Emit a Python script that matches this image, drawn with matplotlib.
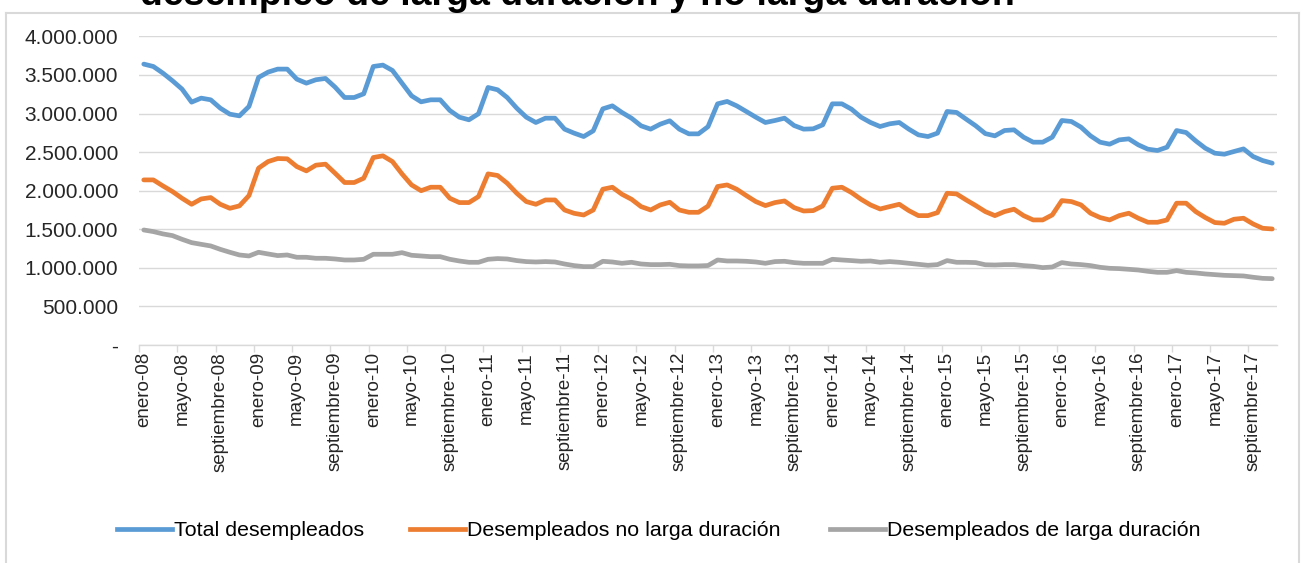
import matplotlib
matplotlib.use("Agg")
import matplotlib.pyplot as plt
import numpy as np
from matplotlib.lines import Line2D

plt.rcParams['font.family'] = ['Liberation Sans', 'DejaVu Sans']

# ---------------- data ----------------
meses = ["enero", "febrero", "marzo", "abril", "mayo", "junio", "julio",
         "agosto", "septiembre", "octubre", "noviembre", "diciembre"]
anios = ["08", "09", "10", "11", "12", "13", "14", "15", "16", "17"]

total_desempleados = [
    3641000, 3610000, 3524000, 3425000, 3317000, 3148000, 3200000, 3178000, 3070000, 2992000, 2970000, 3092000,
    3468000, 3537000, 3576000, 3576000, 3446000, 3394000, 3438000, 3455000, 3343000, 3208000, 3208000, 3256000,
    3610000, 3628000, 3559000, 3394000, 3230000, 3152000, 3178000, 3178000, 3040000, 2953000, 2919000, 2997000,
    3338000, 3308000, 3208000, 3070000, 2953000, 2884000, 2940000, 2940000, 2798000, 2746000, 2702000, 2776000,
    3061000, 3100000, 3014000, 2940000, 2841000, 2798000, 2862000, 2906000, 2798000, 2737000, 2737000, 2830000,
    3126000, 3157000, 3100000, 3027000, 2953000, 2884000, 2910000, 2940000, 2845000, 2798000, 2802000, 2854000,
    3126000, 3126000, 3057000, 2953000, 2884000, 2832000, 2867000, 2884000, 2798000, 2724000, 2702000, 2746000,
    3027000, 3014000, 2927000, 2841000, 2740000, 2711000, 2780000, 2789000, 2694000, 2629000, 2629000, 2694000,
    2910000, 2897000, 2824000, 2711000, 2629000, 2603000, 2659000, 2672000, 2594000, 2538000, 2521000, 2564000,
    2780000, 2754000, 2646000, 2551000, 2486000, 2473000, 2508000, 2542000, 2443000, 2391000, 2357000,
]

no_larga_duracion = [
    2140000, 2140000, 2062000, 1989000, 1902000, 1824000, 1893000, 1911000, 1824000, 1772000, 1803000, 1937000,
    2292000, 2378000, 2417000, 2413000, 2313000, 2257000, 2331000, 2344000, 2227000, 2106000, 2106000, 2162000,
    2430000, 2452000, 2378000, 2218000, 2075000, 2000000, 2045000, 2045000, 1902000, 1846000, 1846000, 1924000,
    2218000, 2197000, 2097000, 1967000, 1859000, 1824000, 1880000, 1880000, 1750000, 1707000, 1685000, 1750000,
    2019000, 2045000, 1954000, 1889000, 1794000, 1750000, 1815000, 1850000, 1750000, 1720000, 1720000, 1800000,
    2054000, 2075000, 2019000, 1937000, 1859000, 1807000, 1846000, 1867000, 1781000, 1737000, 1742000, 1803000,
    2032000, 2045000, 1976000, 1889000, 1815000, 1763000, 1794000, 1824000, 1742000, 1677000, 1677000, 1716000,
    1967000, 1958000, 1880000, 1807000, 1729000, 1677000, 1729000, 1760000, 1677000, 1621000, 1621000, 1686000,
    1872000, 1859000, 1816000, 1708000, 1652000, 1621000, 1677000, 1708000, 1643000, 1591000, 1591000, 1621000,
    1838000, 1838000, 1729000, 1652000, 1587000, 1578000, 1630000, 1643000, 1569000, 1513000, 1504000,
]

larga_duracion = [
    1491000, 1470000, 1440000, 1418000, 1370000, 1327000, 1305000, 1284000, 1240000, 1202000, 1167000, 1154000,
    1202000, 1180000, 1159000, 1167000, 1137000, 1137000, 1124000, 1124000, 1115000, 1102000, 1102000, 1111000,
    1176000, 1176000, 1176000, 1197000, 1163000, 1154000, 1145000, 1145000, 1111000, 1089000, 1072000, 1072000,
    1111000, 1120000, 1115000, 1094000, 1081000, 1076000, 1081000, 1076000, 1050000, 1029000, 1016000, 1016000,
    1085000, 1076000, 1059000, 1072000, 1050000, 1042000, 1042000, 1046000, 1029000, 1025000, 1025000, 1030000,
    1102000, 1089000, 1089000, 1085000, 1076000, 1059000, 1081000, 1085000, 1068000, 1059000, 1059000, 1059000,
    1111000, 1102000, 1094000, 1085000, 1089000, 1072000, 1081000, 1072000, 1059000, 1046000, 1033000, 1042000,
    1094000, 1072000, 1072000, 1068000, 1040000, 1037000, 1042000, 1042000, 1029000, 1020000, 1003000, 1011000,
    1068000, 1050000, 1042000, 1029000, 1007000, 994000, 990000, 981000, 972000, 955000, 942000, 942000,
    964000, 942000, 934000, 921000, 912000, 903000, 899000, 895000, 878000, 864000, 860000,
]

series_names = ["Total desempleados", "Desempleados no larga duración",
                "Desempleados de larga duración"]
y_ticks = [0, 500000, 1000000, 1500000, 2000000, 2500000, 3000000, 3500000, 4000000]
y_tick_labels = ["-", "500.000", "1.000.000", "1.500.000", "2.000.000",
                 "2.500.000", "3.000.000", "3.500.000", "4.000.000"]
titulo = "desempleo de larga duración y no larga duración"

# ---------------- figure ----------------
n = len(total_desempleados)
categorias = [f"{meses[i % 12]}-{anios[i // 12]}" for i in range(n)]
x = np.arange(n)

W, H = 1308, 563
fig = plt.figure(figsize=(W / 100, H / 100), dpi=100)
ax = fig.add_axes([139 / W, 1 - 345 / H, (1277 - 139) / W, (345 - 36.4) / H])

colors = ["#5B9BD5", "#ED7D31", "#A5A5A5"]
lw = 3.4
for data, c, name in zip([total_desempleados, no_larga_duracion, larga_duracion],
                         colors, series_names):
    ax.plot(x, data, color=c, lw=lw, solid_capstyle='round',
            solid_joinstyle='round', label=name, zorder=3)

ax.set_xlim(-0.5, n - 0.5)
ax.set_ylim(0, 4000000)
ax.set_yticks(y_ticks)
ax.set_yticklabels(y_tick_labels)
ax.grid(axis='y', color='#D9D9D9', lw=1.0, zorder=0)
ax.set_axisbelow(True)

for s in ['top', 'right', 'left']:
    ax.spines[s].set_visible(False)
ax.spines['bottom'].set_color('#D9D9D9')
ax.spines['bottom'].set_linewidth(1.0)

ax.tick_params(axis='y', length=0, pad=15, labelsize=15, labelcolor='#262626')
ax.set_xticks(x[::4])
ax.set_xticklabels(categorias[::4], rotation=90, fontsize=13.5, color='#262626')
ax.tick_params(axis='x', which='major', length=0, pad=5)
ax.set_xticks(np.arange(-0.5, n - 1, 4), minor=True)
ax.tick_params(axis='x', which='minor', length=5, width=1, color='#D9D9D9')

# legend: one entry each, placed as in the reference
leg_x = [117, 410, 830]
for c, name, lx in zip(colors, series_names, leg_x):
    fig.legend([Line2D([0], [0], color=c, lw=lw)], [name], loc='center left',
               bbox_to_anchor=(lx / W, 1 - 531 / H), frameon=False,
               fontsize=15.4, handlelength=2.55, handletextpad=0.12,
               borderaxespad=0, borderpad=0)

# chart frame (partially visible)
fc = '#D9D9D9'
fig.add_artist(Line2D([6 / W, 6 / W], [0, 1 - 13 / H], transform=fig.transFigure, color=fc, lw=1.5))
fig.add_artist(Line2D([1299 / W, 1299 / W], [0, 1 - 13 / H], transform=fig.transFigure, color=fc, lw=1.5))
fig.add_artist(Line2D([6 / W, 1299 / W], [1 - 13 / H, 1 - 13 / H], transform=fig.transFigure, color=fc, lw=1.5))

# title (cut off at the top in the reference)
fig.text(140 / W, 1 - 5 / H, titulo, fontsize=27, fontweight='bold',
         ha='left', va='baseline', color='#000000')

fig.savefig("out.png", dpi=100)
